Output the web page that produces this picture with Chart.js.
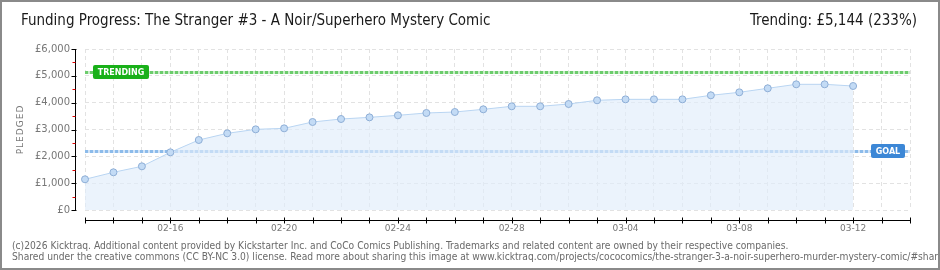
<!DOCTYPE html>
<html>
<head>
<meta charset="utf-8">
<script src="https://cdn.jsdelivr.net/npm/chart.js@4/dist/chart.umd.min.js"></script>
<style>
  html, body { margin:0; padding:0; background:#fff; }
  #wrap { position:relative; width:940px; height:270px; box-sizing:border-box; border:2px solid #8a8a8a; overflow:hidden; background:#fff; }
  #c { position:absolute; left:-2px; top:-2px; }
  .title { position:absolute; top:9px; font-family:"DejaVu Sans Condensed","DejaVu Sans",sans-serif; font-size:15px; color:#1a1a1a; white-space:nowrap; }
  #t1 { left:19px; }
  #t2 { right:21px; }
  .foot { position:absolute; left:10px; font-family:"DejaVu Sans Condensed","DejaVu Sans",sans-serif; font-size:10.2px; color:#6a6a6a; white-space:nowrap; }
</style>
</head>
<body>
<div id="wrap">
  <canvas id="c" width="940" height="270"></canvas>
  <div class="title" id="t1">Funding Progress: The Stranger #3 - A Noir/Superhero Mystery Comic</div>
  <div class="title" id="t2">Trending: £5,144 (233%)</div>
  <div class="foot" style="top:238px">(c)2026 Kicktraq. Additional content provided by Kickstarter Inc. and CoCo Comics Publishing. Trademarks and related content are owned by their respective companies.</div>
  <div class="foot" style="top:249px">Shared under the creative commons (CC BY-NC 3.0) license. Read more about sharing this image at www.kicktraq.com/projects/cococomics/the-stranger-3-a-noir-superhero-murder-mystery-comic/#sharing</div>
</div>
<script>
// ---- data ----
const dates = ['02-13','02-14','02-15','02-16','02-17','02-18','02-19','02-20','02-21','02-22',
               '02-23','02-24','02-25','02-26','02-27','02-28','03-01','03-02','03-03','03-04',
               '03-05','03-06','03-07','03-08','03-09','03-10','03-11','03-12','03-13','03-14'];
const pledged = [1144,1405,1628,2150,2609,2857,3006,3043,3280,3391,
                 3453,3528,3615,3652,3752,3864,3864,3950,4088,4124,
                 4124,4124,4274,4386,4535,4684,4684,4621];
const goal = 2200;
const trending = 5144;
const yTicks = [0,1000,2000,3000,4000,5000,6000];
const labelEvery = 4, labelStart = 3;

const fmt = v => '£' + v.toLocaleString('en-US');

const decor = {
  id:'decor',
  beforeDatasetsDraw(chart){
    const {ctx, chartArea:a, scales:{x,y}} = chart;
    ctx.save();
    const refLine = (val, light, dark) => {
      const py = Math.round(y.getPixelForValue(val)) + 0.5;
      ctx.lineWidth = 3;
      ctx.setLineDash([]);
      ctx.strokeStyle = light;
      ctx.beginPath(); ctx.moveTo(a.left, py); ctx.lineTo(a.right, py); ctx.stroke();
      ctx.setLineDash([3,2]);
      ctx.strokeStyle = dark;
      ctx.beginPath(); ctx.moveTo(a.left, py); ctx.lineTo(a.right, py); ctx.stroke();
      ctx.setLineDash([]);
    };
    refLine(trending, '#c9ebc9', '#6ccc6c');
    refLine(goal, '#d3e4f7', '#8cbbea');
    ctx.restore();
  },
  afterDraw(chart){
    const {ctx, chartArea:a, scales:{x,y}} = chart;
    ctx.save();
    const ax = a.left - 9.5;
    ctx.strokeStyle = '#000'; ctx.lineWidth = 1;
    ctx.beginPath(); ctx.moveTo(ax, Math.round(y.getPixelForValue(6000))); ctx.lineTo(ax, Math.round(y.getPixelForValue(0))+1); ctx.stroke();
    for (let v = 0; v <= 6000; v += 500) {
      const py = Math.round(y.getPixelForValue(v)) + 0.5;
      ctx.beginPath();
      if (v % 1000 === 0) { ctx.strokeStyle = '#000'; ctx.moveTo(ax-4, py); ctx.lineTo(ax+1, py); }
      else { ctx.strokeStyle = '#e00000'; ctx.moveTo(ax-3, py); ctx.lineTo(ax, py); }
      ctx.stroke();
    }
    const ay = a.bottom + 10.5;
    ctx.strokeStyle = '#000';
    ctx.beginPath(); ctx.moveTo(a.left, ay); ctx.lineTo(a.right+1, ay); ctx.stroke();
    for (let i = 0; i < dates.length; i++) {
      const px = Math.round(x.getPixelForValue(i)) + 0.5;
      ctx.beginPath(); ctx.moveTo(px, ay-3); ctx.lineTo(px, ay+3); ctx.stroke();
    }
    const tag = (text, val, x0, w, color) => {
      const py = Math.round(y.getPixelForValue(val));
      const h = 14, t = py - 7;
      ctx.fillStyle = color;
      ctx.beginPath();
      ctx.roundRect(x0, t, w, h, 2);
      ctx.fill();
      ctx.fillStyle = '#fff';
      ctx.font = 'bold 8px "DejaVu Sans"';
      ctx.textBaseline = 'middle'; ctx.textAlign = 'center';
      ctx.fillText(text, x0 + w/2, py + 0.5);
    };
    tag('TRENDING', trending, a.left + 8, 56, '#19b019');
    tag('GOAL', goal, a.right - 39, 34, '#3c87d6');
    // y axis title
    ctx.translate(21, (a.top + a.bottom)/2);
    ctx.rotate(-Math.PI/2);
    ctx.fillStyle = '#777';
    ctx.font = '9px "DejaVu Sans"';
    ctx.letterSpacing = '1px';
    ctx.textAlign = 'center'; ctx.textBaseline = 'middle';
    ctx.fillText('PLEDGED', 0, 0);
    ctx.restore();
  }
};

new Chart(document.getElementById('c'), {
  type:'line',
  data:{
    labels: dates,
    datasets:[{
      data: pledged,
      borderColor:'#b9d5f2',
      borderWidth:1,
      backgroundColor:'rgba(225,237,251,0.65)',
      fill:'origin',
      tension:0,
      pointRadius:3.5,
      pointBackgroundColor:'#c3dbf5',
      pointBorderColor:'#8eaed6',
      pointBorderWidth:1
    }]
  },
  options:{
    responsive:false,
    animation:false,
    layout:{ padding:{ left:0, right:30, top:49, bottom:0 } },
    plugins:{ legend:{display:false}, tooltip:{enabled:false} },
    scales:{
      x:{
        type:'category',
        offset:false,
        afterFit: s => { s.height = 60; },
        grid:{ color:'#e2e2e2', drawTicks:false },
        border:{ display:false, dash:[4,3] },
        ticks:{
          autoSkip:false, maxRotation:0, padding:13,
          color:'#777', font:{ family:'"DejaVu Sans"', size:9 },
          callback:(v,i) => (i >= labelStart && (i-labelStart) % labelEvery === 0) ? dates[i] : ''
        }
      },
      y:{
        min:0, max:6000,
        afterFit: s => { s.width = 85; },
        afterBuildTicks: s => { s.ticks = yTicks.map(v => ({value:v})); },
        grid:{ color:'#e2e2e2', drawTicks:false },
        border:{ display:false, dash:[4,3] },
        ticks:{ padding:15, color:'#777', font:{ family:'"DejaVu Sans"', size:10 }, callback:v => fmt(v) }
      }
    }
  },
  plugins:[decor]
});
</script>
</body>
</html>
